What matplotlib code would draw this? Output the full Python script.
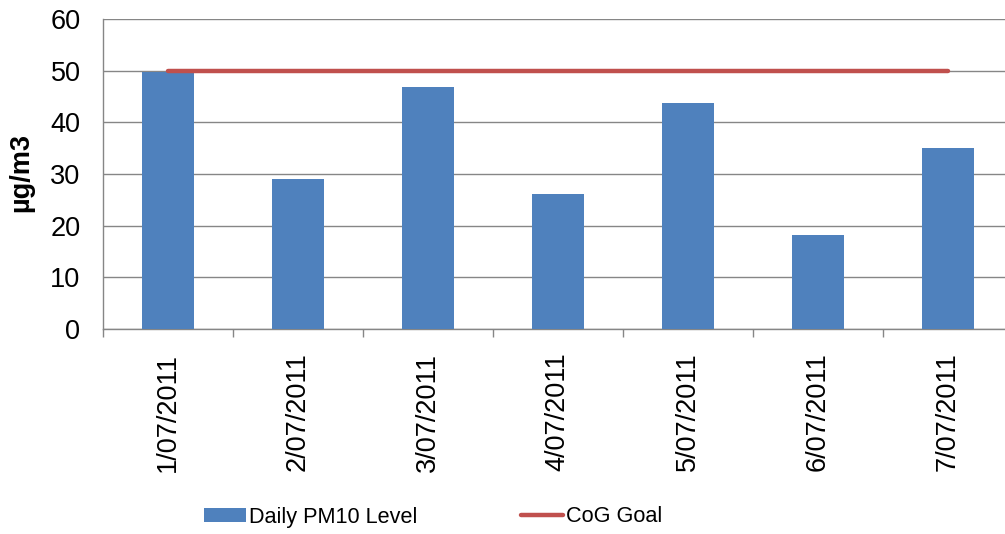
import matplotlib
matplotlib.use("Agg")
import matplotlib.pyplot as plt
from matplotlib.patches import Patch
from matplotlib.lines import Line2D
import numpy as np

plt.rcParams['font.family'] = ['Liberation Sans', 'DejaVu Sans']

dates = ["1/07/2011", "2/07/2011", "3/07/2011", "4/07/2011",
         "5/07/2011", "6/07/2011", "7/07/2011"]
pm10 = [49.8, 29.1, 46.9, 26.2, 43.7, 18.2, 35.1]
goal = [50, 50, 50, 50, 50, 50, 50]
yticks = [0, 10, 20, 30, 40, 50, 60]

blue = "#4F81BD"
red = "#C0504D"
grid = "#868686"

fig = plt.figure(figsize=(10.05, 5.34), dpi=100)
ax = fig.add_axes([102.7/1005, 205/534, 910/1005, 310/534])

x = np.arange(len(dates))
ax.bar(x, pm10, width=0.4, color=blue, zorder=3)
ax.plot(x, goal, color=red, lw=3.2, solid_capstyle='round', zorder=4)

ax.set_xlim(-0.5, len(dates) - 0.5)
ax.set_ylim(0, 60)
ax.set_yticks(yticks)
ax.yaxis.grid(True, color=grid, lw=1.0, zorder=0)
ax.set_axisbelow(True)
ax.tick_params(axis='y', length=0, pad=16, labelsize=19.5)

ax.set_xticks(x)
ax.set_xticklabels(dates, rotation=90, fontsize=19.5)
ax.set_xticks(np.arange(-0.5, len(dates) + 0.5, 1), minor=True)
ax.tick_params(axis='x', which='major', length=0, pad=17)
ax.tick_params(axis='x', which='minor', length=6, width=1, color=grid)

for s in ['top', 'right']:
    ax.spines[s].set_visible(False)
for s in ['left', 'bottom']:
    ax.spines[s].set_color(grid)
    ax.spines[s].set_linewidth(1.0)

ax.set_ylabel("µg/m3", fontsize=19.5, fontweight='bold')
ax.yaxis.set_label_coords((34 - 102.7) / 910, 0.505)

handles = [Patch(facecolor=blue, edgecolor='none'),
           Line2D([0], [0], color=red, lw=3.2, solid_capstyle='round')]
fig.legend(handles, ["Daily PM10 Level", "CoG Goal"], ncol=2,
           loc='center', bbox_to_anchor=(433/1005, 1 - 517/534),
           frameon=False, fontsize=15.6, handlelength=1.95, handleheight=0.6,
           handletextpad=0.12, columnspacing=4.8)

fig.savefig("out.png", dpi=100)
